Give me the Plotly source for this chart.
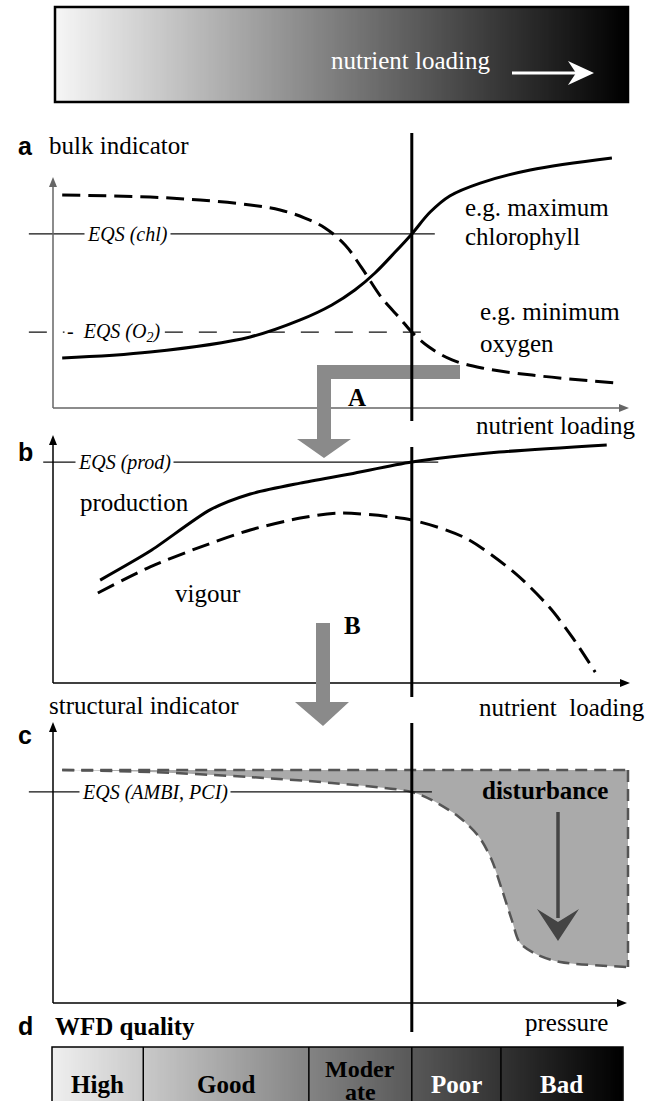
import numpy as np
import plotly.graph_objects as go

W, H = 664, 1101

# ---------------- data ----------------
threshold_x = 6.24  # nutrient loading at which the EQS is crossed

# panel a: bulk indicators vs nutrient loading
chl_x = [0.16, 1.69, 3.43, 4.30, 4.85, 5.25, 5.60, 5.95, 6.24, 6.56, 6.90, 7.43, 8.30, 9.72]
chl_y = [2.17, 2.43, 3.09, 3.83, 4.48, 5.13, 5.87, 6.78, 7.57, 8.52, 9.22, 9.78, 10.35, 10.87]
o2_x = [0.16, 1.69, 2.56, 3.43, 3.95, 4.38, 4.73, 5.08, 5.37, 5.72, 6.03, 6.24, 6.54, 6.94, 7.46, 8.33, 9.77]
o2_y = [9.26, 9.17, 9.04, 8.83, 8.61, 8.26, 7.83, 7.09, 6.09, 4.78, 3.91, 3.30, 2.65, 2.09, 1.74, 1.43, 1.09]
eqs_chl = 7.57
eqs_o2 = 3.30

# panel b: production and vigour vs nutrient loading
prod_x = [0.82, 1.69, 2.73, 3.43, 4.30, 5.17, 6.24, 7.76, 9.63]
prod_y = [4.15, 5.32, 6.98, 7.62, 8.06, 8.43, 8.91, 9.31, 9.60]
vig_x = [0.78, 1.69, 2.56, 3.43, 4.30, 4.97, 6.24, 7.17, 8.03, 8.63, 9.03, 9.43]
vig_y = [3.63, 4.68, 5.48, 6.17, 6.65, 6.85, 6.57, 5.85, 4.44, 3.06, 1.85, 0.44]
eqs_prod = 8.91

# panel c: structural indicator vs pressure
ref_level = 8.29
dist_x = [0.16, 1.69, 3.43, 4.85, 6.24, 6.59, 7.06, 7.41, 7.63, 7.81, 7.98, 8.12, 8.43, 8.82, 10.0]
dist_y = [8.29, 8.22, 8.04, 7.83, 7.51, 7.22, 6.62, 5.91, 5.09, 4.02, 2.95, 2.14, 1.71, 1.46, 1.28]
eqs_ambi = 7.51

# panel d: WFD quality classes
quality_labels = ["High", "Good", "Moder<br>ate", "Poor", "Bad"]
quality_edges = [-0.02, 1.57, 4.45, 6.24, 7.79, 9.91]
quality_text_color = ["black", "black", "black", "white", "white"]

# ---------------- layout geometry ----------------
X0, XS = 53.0, 57.5                 # pixel of x=0, pixels per unit
PANEL = {"a": (408.0, 23.0), "b": (683.0, 24.8), "c": (1003.0, 28.1)}  # pixel of y=0, px/unit
EQS_X = {"a": (-0.42, 6.64), "b": (-0.17, 6.70), "c": (-0.42, 6.59)}

SERIF = "Liberation Serif, Times New Roman, Times, serif"
SANS = "Liberation Sans, Arial, Helvetica, sans-serif"
CURVE_DASH = "18px,8px"
C_DASH = "12px,7px"
ARROW_GREY = "#8a8a8a"


def P(px, py):
    return px / W, 1 - py / H


def yr(key):
    y0, s = PANEL[key]
    return [(y0 - H) / s, y0 / s]


shapes = []
ann = []


def seg(x0, y0, x1, y1, color="black", width=1.5, dash=None):
    a, b = P(x0, y0)
    c, d = P(x1, y1)
    shapes.append(dict(type="line", xref="paper", yref="paper", x0=a, y0=b, x1=c, y1=d,
                       line=dict(color=color, width=width, dash=dash), layer="above"))


def poly(pts, color):
    path = "M " + " L ".join("%.5f,%.5f" % P(x, y) for x, y in pts) + " Z"
    shapes.append(dict(type="path", xref="paper", yref="paper", path=path,
                       fillcolor=color, line=dict(width=0), layer="above"))


def head(tx, ty, direction, color, length=10, width=8):
    if direction == "up":
        pts = [(tx, ty), (tx - width / 2, ty + length), (tx + width / 2, ty + length)]
    else:
        pts = [(tx, ty), (tx - length, ty - width / 2), (tx - length, ty + width / 2)]
    poly(pts, color)


def label(text, px, py, size=25, anchor="left", color="black", family=SERIF, bg=None):
    x, y = P(px, py)
    d = dict(text=text, x=x, y=y, xref="paper", yref="paper", xanchor=anchor,
             yanchor="middle", showarrow=False,
             font=dict(family=family, size=size, color=color))
    if bg:
        d.update(bgcolor=bg, borderpad=2)
    ann.append(d)


fig = go.Figure()

# ---- gradient bars (heatmaps) ----
n = 300
grad = [np.linspace(0, 1, n)]
fig.add_trace(go.Heatmap(x=np.linspace(0.03, 10.0, n + 1), y=[7, 102], z=grad,
                         colorscale=[[0, "#f6f6f6"], [1, "#000000"]], zmin=0, zmax=1,
                         showscale=False, hoverinfo="skip", xaxis="x", yaxis="y4"))
fig.add_trace(go.Heatmap(x=np.linspace(quality_edges[0], quality_edges[-1], n + 1), y=[1047, 1101],
                         z=grad, colorscale=[[0, "#efefef"], [1, "#000000"]], zmin=0, zmax=1,
                         showscale=False, hoverinfo="skip", xaxis="x", yaxis="y4"))

# ---- panel c: disturbance region ----
fig.add_trace(go.Scatter(x=[dist_x[0], dist_x[-1]], y=[ref_level, ref_level], mode="lines",
                         line=dict(color="#555555", width=2.5, dash=C_DASH),
                         xaxis="x", yaxis="y3", hoverinfo="skip"))
fig.add_trace(go.Scatter(x=dist_x, y=dist_y, mode="lines", fill="tonexty", fillcolor="#aaaaaa",
                         line=dict(color="#555555", width=2.5, dash=C_DASH, shape="spline", smoothing=0.8),
                         xaxis="x", yaxis="y3", hoverinfo="skip"))
fig.add_trace(go.Scatter(x=[dist_x[-1], dist_x[-1]], y=[ref_level, dist_y[-1]], mode="lines",
                         line=dict(color="#555555", width=2.5, dash=C_DASH),
                         xaxis="x", yaxis="y3", hoverinfo="skip"))

# ---- EQS lines ----
for key, yax, level, dash in [("a", "y", eqs_chl, None), ("a", "y", eqs_o2, "18px,16px"),
                              ("b", "y2", eqs_prod, None), ("c", "y3", eqs_ambi, None)]:
    fig.add_trace(go.Scatter(x=list(EQS_X[key]), y=[level, level], mode="lines",
                             line=dict(color="#111111", width=1.3, dash=dash),
                             xaxis="x", yaxis=yax, hoverinfo="skip"))

# ---- curves ----
fig.add_trace(go.Scatter(x=o2_x, y=o2_y, mode="lines",
                         line=dict(color="black", width=3, dash=CURVE_DASH, shape="spline", smoothing=1.0),
                         xaxis="x", yaxis="y", hoverinfo="skip"))
fig.add_trace(go.Scatter(x=chl_x, y=chl_y, mode="lines",
                         line=dict(color="black", width=3, shape="spline", smoothing=1.0),
                         xaxis="x", yaxis="y", hoverinfo="skip"))
fig.add_trace(go.Scatter(x=prod_x, y=prod_y, mode="lines",
                         line=dict(color="black", width=3, shape="spline", smoothing=0.7),
                         xaxis="x", yaxis="y2", hoverinfo="skip"))
fig.add_trace(go.Scatter(x=vig_x, y=vig_y, mode="lines",
                         line=dict(color="black", width=3, dash=CURVE_DASH, shape="spline", smoothing=0.8),
                         xaxis="x", yaxis="y2", hoverinfo="skip"))

# ---- frames / borders ----
a, b = P(55, 7)
c, d = P(628, 102)
shapes.append(dict(type="rect", xref="paper", yref="paper", x0=a, y0=b, x1=c, y1=d,
                   line=dict(color="black", width=2.5), layer="above"))
a, b = P(52, 1047)
c, d = P(623, 1103)
shapes.append(dict(type="rect", xref="paper", yref="paper", x0=a, y0=b, x1=c, y1=d,
                   line=dict(color="black", width=1.5), layer="above"))
for e in quality_edges[1:-1]:
    shapes.append(dict(type="line", xref="x", yref="paper", x0=e, x1=e, y0=1 - 1047 / H, y1=0,
                       line=dict(color="black", width=1.5), layer="above"))

# white arrow in top bar
seg(512, 73, 578, 73, "white", 3)
poly([(594, 73), (568, 61), (576, 73), (568, 85)], "white")

# ---- axes ----
seg(53, 408, 53, 186, "#666666", 1.5); head(53, 177, "up", "#666666")
seg(53, 408, 621, 408, "#666666", 1.5); head(629, 408, "right", "#666666")
seg(53, 683, 53, 444, "black", 1.5); head(53, 435, "up", "black")
seg(53, 683, 621, 683, "black", 1.5); head(630, 683, "right", "black")
seg(53, 1003, 53, 731, "black", 1.5); head(53, 722, "up", "black")
seg(53, 1003, 618, 1003, "black", 1.5); head(627, 1003, "right", "black")

# ---- grey block arrows A and B ----
poly([(460, 365), (317, 365), (317, 439), (297, 439), (324, 458), (351, 439), (331, 439),
      (331, 379), (460, 379)], ARROW_GREY)
poly([(316, 623), (316, 702), (295, 702), (323, 726), (349, 702), (330, 702), (330, 623)], ARROW_GREY)

# ---- threshold line (three segments) ----
for y0, y1 in [(133, 421), (447, 697), (723, 1032)]:
    shapes.append(dict(type="line", xref="x", yref="paper", x0=threshold_x, x1=threshold_x,
                       y0=1 - y0 / H, y1=1 - y1 / H, line=dict(color="black", width=3), layer="above"))

# ---- disturbance arrow ----
seg(558, 812, 558, 918, "#444444", 3.5)
poly([(558, 941), (537, 909), (558, 922), (579, 909)], "#444444")

# ---- texts ----
label("nutrient loading", 410, 60, anchor="center", color="white")

label("<b>a</b>", 16, 146, size=25, family=SANS)
label("bulk indicator", 47, 145)
label("<i>EQS (chl)</i>", 84, 234, size=20, bg="white")
label("<i>-  EQS (O<sub>2</sub>)</i>", 64, 332, size=20, bg="white")
label("e.g. maximum", 463, 207)
label("chlorophyll", 463, 237)
label("e.g. minimum", 478, 312)
label("oxygen", 478, 343)
label("<b>A</b>", 357, 397, anchor="center")
label("nutrient loading", 474, 425)

label("<b>b</b>", 16, 452, size=25, family=SANS)
label("<i>EQS (prod)</i>", 75, 462, size=20, bg="white")
label("production", 78, 502)
label("vigour", 173, 593)
label("<b>B</b>", 352, 625, anchor="center")
label("structural indicator", 47, 705)
label("nutrient\u00a0 loading", 477, 707)

label("<b>c</b>", 16, 735, size=25, family=SANS)
label("<i>EQS (AMBI, PCI)</i>", 79, 792, size=20, bg="white")
label("<b>disturbance</b>", 545, 790, anchor="center")

label("<b>d</b>", 16, 1026, size=25, family=SANS)
label("<b>WFD quality</b>", 53, 1026)
label("pressure", 523, 1022)

for i, (txt, col) in enumerate(zip(quality_labels, quality_text_color)):
    xm = (quality_edges[i] + quality_edges[i + 1]) / 2
    if "<br>" in txt:
        top, bot = txt.split("<br>")
        for t, yy in [(top, 1069), (bot, 1092)]:
            ann.append(dict(text="<b>%s</b>" % t, x=xm, y=yy, xref="x", yref="y4", showarrow=False,
                            xanchor="center", yanchor="middle",
                            font=dict(family=SERIF, size=24, color=col)))
    else:
        ann.append(dict(text="<b>%s</b>" % txt, x=xm, y=1084, xref="x", yref="y4", showarrow=False,
                        xanchor="center", yanchor="middle",
                        font=dict(family=SERIF, size=25, color=col)))

ax_common = dict(visible=False, showgrid=False, zeroline=False, fixedrange=True)
fig.update_layout(
    width=W, height=H, margin=dict(l=0, r=0, t=0, b=0),
    paper_bgcolor="white", plot_bgcolor="white", showlegend=False, hovermode=False,
    xaxis=dict(domain=[0, 1], range=[(0 - X0) / XS, (W - X0) / XS], **ax_common),
    yaxis=dict(domain=[0, 1], range=yr("a"), **ax_common),
    yaxis2=dict(domain=[0, 1], range=yr("b"), overlaying="y", anchor="x", **ax_common),
    yaxis3=dict(domain=[0, 1], range=yr("c"), overlaying="y", anchor="x", **ax_common),
    yaxis4=dict(domain=[0, 1], range=[H, 0], overlaying="y", anchor="x", **ax_common),
    shapes=shapes, annotations=ann,
)

fig.write_html("out.html", config={"displayModeBar": False},
               post_script="document.body.style.margin='0';document.body.style.overflow='hidden';")
